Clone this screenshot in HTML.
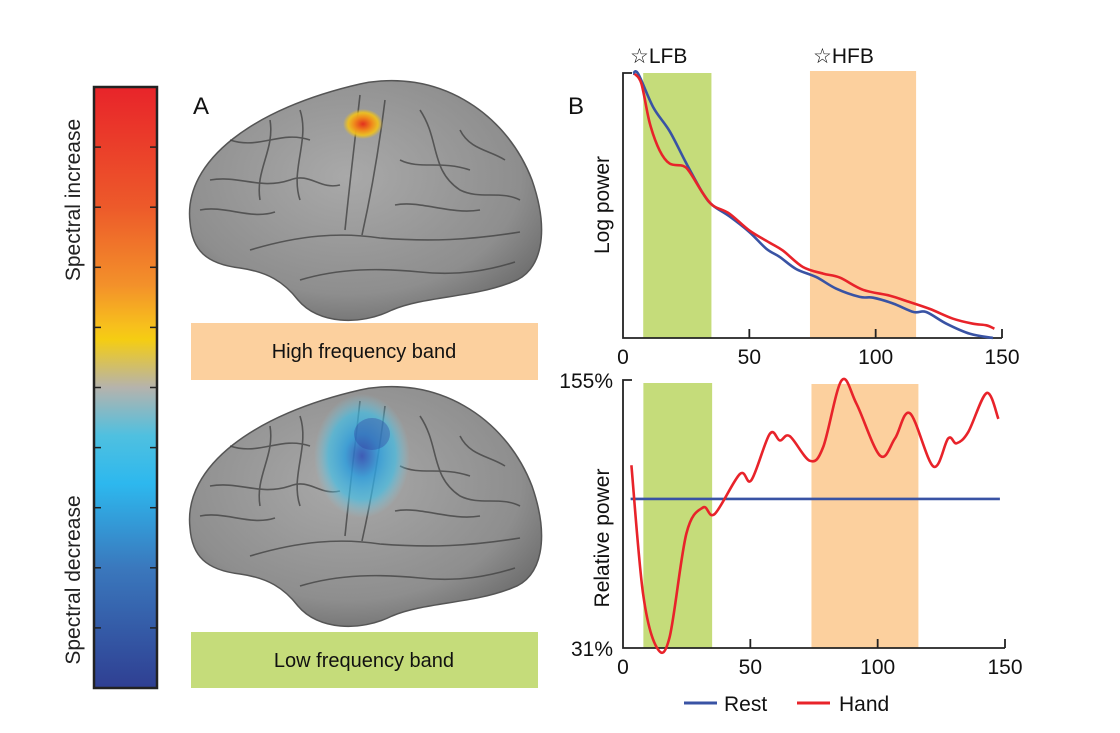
<!DOCTYPE html>
<html><head><meta charset="utf-8"><style>
html,body{margin:0;padding:0;background:#fff;}
svg{display:block;font-family:"Liberation Sans",Arial,sans-serif;}
</style></head><body>
<svg id="fig" width="1120" height="733" viewBox="0 0 1120 733">
<defs>
<linearGradient id="cbar" x1="0" y1="0" x2="0" y2="1">
<stop offset="0" stop-color="#e8242a"/><stop offset="0.2" stop-color="#ed5a2a"/><stop offset="0.33" stop-color="#f3912a"/>
<stop offset="0.4" stop-color="#f7c11c"/><stop offset="0.42" stop-color="#f5cd12"/><stop offset="0.5" stop-color="#b5b3ad"/>
<stop offset="0.58" stop-color="#4fc0e0"/><stop offset="0.66" stop-color="#2db8ee"/><stop offset="0.8" stop-color="#3a78bd"/>
<stop offset="1" stop-color="#2f3f92"/></linearGradient>
<radialGradient id="brainshade" cx="0.45" cy="0.4" r="0.7"><stop offset="0" stop-color="#a9a9a9"/><stop offset="0.7" stop-color="#8e8e8e"/><stop offset="1" stop-color="#666"/></radialGradient>
<radialGradient id="hot" cx="0.5" cy="0.5" r="0.5"><stop offset="0" stop-color="#e2301e"/><stop offset="0.45" stop-color="#f08a1c"/><stop offset="0.75" stop-color="#f2c21a" stop-opacity="0.9"/><stop offset="1" stop-color="#f2c21a" stop-opacity="0"/></radialGradient>
<radialGradient id="cold" cx="0.5" cy="0.5" r="0.5"><stop offset="0" stop-color="#2d4fb8"/><stop offset="0.35" stop-color="#2f9ddc"/><stop offset="0.7" stop-color="#3cc0ea" stop-opacity="0.75"/><stop offset="1" stop-color="#7fd6ef" stop-opacity="0"/></radialGradient>
<g id="brain">
<path d="M190,222 C183,160 255,108 360,84 C435,68 505,110 532,180 C550,232 542,272 512,282 C472,298 425,296 392,310 C360,326 318,324 298,300 C284,282 268,272 240,268 C206,264 192,250 190,222 Z" fill="url(#brainshade)" stroke="#555" stroke-width="1.5"/>
<g fill="none" stroke="#444" stroke-width="1.6" opacity="0.8">
<path d="M360,95 C355,140 350,180 345,230"/><path d="M385,100 C380,140 372,190 362,235"/>
<path d="M250,250 C300,235 340,232 380,238 C430,242 470,240 520,232"/>
<path d="M300,280 C340,268 380,268 420,272 C460,276 490,270 515,262"/>
<path d="M210,180 C240,175 260,190 290,180 C310,172 320,190 340,185"/>
<path d="M230,140 C260,150 280,130 310,140"/><path d="M420,110 C440,140 430,170 460,190 C480,200 500,190 520,200"/>
<path d="M200,210 C225,205 250,220 275,212"/><path d="M400,160 C420,170 440,160 470,170"/>
<path d="M300,110 C310,140 290,170 300,200"/><path d="M460,130 C470,150 490,150 505,160"/>
<path d="M270,120 C275,150 255,170 260,200"/><path d="M395,205 C420,200 450,215 480,210"/>
</g></g>
</defs>

<rect x="94" y="87" width="63" height="601" fill="url(#cbar)" stroke="#222" stroke-width="2.5"/>
<g id="cbticks" stroke="#222" stroke-width="1.5"></g>
<text transform="translate(80,200) rotate(-90)" text-anchor="middle" font-size="21" fill="#222">Spectral increase</text>
<text transform="translate(80,580) rotate(-90)" text-anchor="middle" font-size="21" fill="#222">Spectral decrease</text>

<text x="193" y="114" font-size="24" fill="#111">A</text>
<text x="568" y="114" font-size="24" fill="#111">B</text>

<g>
<use href="#brain"/>
<ellipse cx="363" cy="124" rx="20" ry="15" fill="url(#hot)"/>
</g>
<g transform="translate(0,306)">
<use href="#brain"/>
<ellipse cx="362" cy="150" rx="48" ry="62" fill="url(#cold)" opacity="0.85"/>
<ellipse cx="372" cy="128" rx="18" ry="16" fill="#2d3a9e" opacity="0.35"/>
</g>

<rect x="191" y="323" width="347" height="57" fill="#fcd09e"/>
<text x="364" y="358" text-anchor="middle" font-size="20" fill="#111">High frequency band</text>
<rect x="191" y="632" width="347" height="56" fill="#c5dc7a"/>
<text x="364" y="667" text-anchor="middle" font-size="20" fill="#111">Low frequency band</text>

<g id="charts"></g>
</svg>
<script>
const bandLFB = [8, 35];
const bandHFB = [74, 116];
const xTicks = [0, 50, 100, 150];
const restX = [3, 30, 60, 90, 120, 148];
const restLogX = [4, 6, 12, 18.5, 25, 31.7, 35.6, 42, 50, 56.7, 62, 68.6, 76.5, 84.4, 93.7, 99, 107, 115, 120, 128, 137.3, 146.4];
const restLogY = [99.7, 99.7, 87, 78, 66, 54.5, 50, 46, 40, 33.7, 30.6, 26, 23, 18.6, 15.5, 15.2, 13, 9.8, 9.8, 5.4, 1.6, 0];
const handLogX = [4.6, 7.3, 10.6, 14.5, 18.5, 23.7, 26.4, 31.7, 35.6, 42, 50, 58, 63.3, 71.2, 79.2, 85.8, 95, 105.5, 112, 121.4, 130.6, 138.5, 143.8, 147];
const handLogY = [99.7, 96, 81, 70.8, 65.8, 65, 62.6, 54.5, 50, 47, 40.6, 36, 33, 26.8, 24.3, 22.8, 18.2, 16, 14, 11, 7.3, 5.4, 4.8, 3.5];
const restRelY = [100, 100, 100, 100, 100, 100];
const handRelX = [3.3, 7.9, 13.4, 18.3, 24.9, 31.4, 36, 45.9, 50.4, 57.6, 61.6, 65.5, 73.4, 78.6, 85.8, 91.7, 100.9, 106.8, 112.7, 121.9, 127.7, 131, 135.6, 142.8, 147.4];
const handRelY = [115.6, 56, 31, 36, 84, 96, 93, 111.5, 108.7, 130, 127, 129, 117.6, 124, 154.7, 144, 120, 128, 139.6, 115, 128, 125.7, 131, 149, 137];
const relTickLabels = ["155%", "31%"];
const relRange = [31, 155];

const NS = "http://www.w3.org/2000/svg";
const chartsRoot = document.getElementById('charts');
function mk(tag, attrs, parent) { const e = document.createElementNS(NS, tag); for (const k in attrs) e.setAttribute(k, attrs[k]); (parent || chartsRoot).appendChild(e); return e; }
function smooth(pts) {
  let d = "M" + pts[0][0] + "," + pts[0][1];
  for (let i = 0; i < pts.length - 1; i++) {
    const p0 = pts[i - 1] || pts[i], p1 = pts[i], p2 = pts[i + 1], p3 = pts[i + 2] || p2;
    const c1 = [p1[0] + (p2[0] - p0[0]) / 6, p1[1] + (p2[1] - p0[1]) / 6];
    const c2 = [p2[0] - (p3[0] - p1[0]) / 6, p2[1] - (p3[1] - p1[1]) / 6];
    d += " C" + c1.join(",") + " " + c2.join(",") + " " + p2.join(",");
  }
  return d;
}
const cbt = document.getElementById('cbticks');
for (let i = 1; i < 10; i++) {
  const yy = 87 + i * 60.1;
  const a = mk('line', {x1: 94, x2: 101, y1: yy, y2: yy}, cbt);
  
  
  const b = mk('line', {x1: 150, x2: 157, y1: yy, y2: yy}, cbt);
  
  
}

function chart(cfg) {
  const g = mk('g', {});
  
  
  const x = v => cfg.x0 + (v / 150) * (cfg.x1 - cfg.x0);
  const y = v => cfg.yb - (v - cfg.ymin) / (cfg.ymax - cfg.ymin) * (cfg.yb - cfg.yt);
  const bl = mk('rect', {x: x(bandLFB[0]), y: cfg.bandTop, width: x(bandLFB[1]) - x(bandLFB[0]), height: cfg.yb - cfg.bandTop, fill: '#c5dc7a'}, g);
  
  
  const bh = mk('rect', {x: x(bandHFB[0]), y: cfg.bandTop2, width: x(bandHFB[1]) - x(bandHFB[0]), height: cfg.yb - cfg.bandTop2, fill: '#fcd09e'}, g);
  
  
  const ax = mk('path', {d: `M${cfg.x0 + 9},${cfg.yt} H${cfg.x0} V${cfg.yb} H${cfg.x1}`, fill: 'none', stroke: '#222', 'stroke-width': 1.8}, g);
  
  
  xTicks.forEach(t => {
    if (t > 0) { const tl = mk('line', {x1: x(t), x2: x(t), y1: cfg.yb, y2: cfg.yb - 9, stroke: '#222', 'stroke-width': 1.8}, g);
      
       }
    const tx = mk('text', {x: x(t), y: cfg.yb + 26, 'text-anchor': 'middle', 'font-size': 21, fill: '#111'}, g);
    tx.textContent = t;
    
    
  });
  cfg.series.forEach(s => {
    const pts = s.xs.map((v, i) => [Number(x(v).toFixed(1)), Number(y(s.ys[i]).toFixed(1))]);
    const p = mk('path', {d: smooth(pts), fill: 'none', stroke: s.color, 'stroke-width': 2.6, 'stroke-linejoin': 'round'}, g);
    
    
  });
  return {g: g, x: x, y: y};
}

const topChart = chart({name: 'log-power-chart', x0: 623, x1: 1002, yt: 73, yb: 338, ymin: 0, ymax: 100, bandTop: 73, bandTop2: 71,
  series: [{name: 'rest-log-power-line', xs: restLogX, ys: restLogY, color: '#3953a4'}, {name: 'hand-log-power-line', xs: handLogX, ys: handLogY, color: '#e8232a'}]});
const ylab1 = mk('text', {transform: 'translate(609,205) rotate(-90)', 'text-anchor': 'middle', 'font-size': 21, fill: '#111'}, topChart.g);
ylab1.textContent = 'Log power';


const l1 = mk('text', {x: 630, y: 63, 'font-size': 21, fill: '#111'}, topChart.g);
l1.textContent = '☆LFB';


const l2 = mk('text', {x: 813, y: 63, 'font-size': 21, fill: '#111'}, topChart.g);
l2.textContent = '☆HFB';



const botChart = chart({name: 'relative-power-chart', x0: 623, x1: 1005, yt: 380, yb: 648, ymin: relRange[0], ymax: relRange[1], bandTop: 383, bandTop2: 384,
  series: [{name: 'rest-relative-power-line', xs: restX, ys: restRelY, color: '#3953a4'}, {name: 'hand-relative-power-line', xs: handRelX, ys: handRelY, color: '#e8232a'}]});
[0, 1].forEach(i => {
  const t = mk('text', {x: 613, y: botChart.y(relRange[1 - i]) + 8, 'text-anchor': 'end', 'font-size': 21, fill: '#111'}, botChart.g);
  t.textContent = relTickLabels[i];
  
  
});
const ylab2 = mk('text', {transform: 'translate(609,538) rotate(-90)', 'text-anchor': 'middle', 'font-size': 21, fill: '#111'}, botChart.g);
ylab2.textContent = 'Relative power';



const lg = mk('g', {});


[['Rest', '#3953a4', 684, 724], ['Hand', '#e8232a', 797, 839]].forEach(e => {
  const ln = mk('line', {x1: e[2], x2: e[2] + 33, y1: 703, y2: 703, stroke: e[1], 'stroke-width': 3}, lg);
  
  
  const t = mk('text', {x: e[3], y: 711, 'font-size': 21, fill: '#111'}, lg);
  t.textContent = e[0];
  
  
});
</script>
</body></html>
